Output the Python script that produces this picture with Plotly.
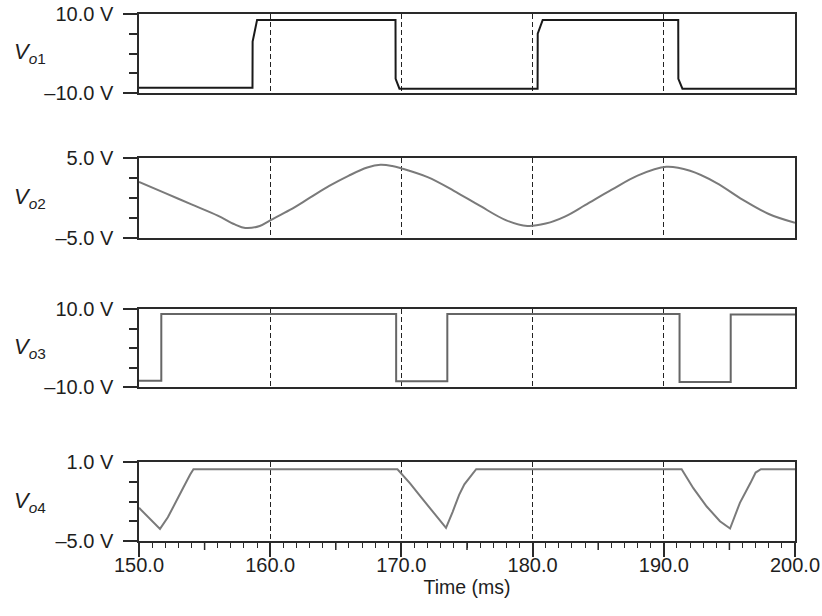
import plotly.graph_objects as go

# ---------------- data ----------------
t_vo1 = [150, 158.65, 158.66, 159.0, 169.55, 169.56, 169.85, 180.38, 180.39, 180.77, 191.1, 191.11, 191.42, 200]
v_vo1 = [-8.7, -8.7, 3.0, 8.5, 8.5, -6.4, -8.9, -8.9, 5.0, 8.5, 8.5, -6.4, -8.9, -8.9]

t_vo2 = [150, 152, 154, 156, 157.3, 158.1, 159.2, 160, 161.5, 163, 164.5, 166, 167.4, 168.4, 169.3,
         170, 172, 174, 176, 178, 179.6, 181, 182.5, 184, 186, 188, 190.2, 192, 194, 196, 198, 200]
v_vo2 = [2.0, 0.6, -0.8, -2.2, -3.3, -3.75, -3.5, -2.8, -1.5, 0.0, 1.5, 2.8, 3.8, 4.15, 4.0,
         3.7, 2.6, 0.9, -1.0, -2.8, -3.5, -3.2, -2.3, -0.9, 1.0, 2.8, 3.9, 3.4, 1.9, -0.2, -2.0, -3.1]

t_vo3 = [150, 151.7, 151.7, 169.6, 169.6, 173.5, 173.5, 191.2, 191.2, 195.1, 195.1, 200]
v_vo3 = [-8.4, -8.4, 8.7, 8.7, -8.5, -8.5, 8.7, 8.7, -8.7, -8.7, 8.6, 8.6]

t_vo4 = [150, 150.8, 151.6, 152.2, 152.8, 153.4, 153.9, 154.15, 169.7, 170.66, 171.42, 172.18, 172.94, 173.4,
         173.9, 174.4, 174.8, 175.2, 175.7, 191.36, 192.25, 193.27, 194.28, 195.05,
         195.8, 196.6, 197.0, 197.4, 200]
v_vo4 = [-2.48, -3.28, -4.08, -3.2, -2.1, -0.9, 0.05, 0.45, 0.45, -0.62, -1.58, -2.51, -3.52, -4.0,
         -2.8, -1.5, -0.7, -0.2, 0.45, 0.45, -0.99, -2.38, -3.5, -4.05,
         -2.1, -0.6, 0.2, 0.45, 0.45]

panel_labels = ["<i>V</i><sub><i>o</i>1</sub>", "<i>V</i><sub><i>o</i>2</sub>",
                "<i>V</i><sub><i>o</i>3</sub>", "<i>V</i><sub><i>o</i>4</sub>"]
y_ranges = [(-10, 10), (-5, 5), (-10, 10), (-5, 1)]
y_ticktext = [["–10.0 V", "10.0 V"], ["–5.0 V", "5.0 V"], ["–10.0 V", "10.0 V"], ["–5.0 V", "1.0 V"]]
y_minor = [[-5, 0, 5], [-2.5, 0, 2.5], [-5, 0, 5], [-3.5, -2, -0.5]]
x_ticks = [150, 160, 170, 180, 190, 200]
x_mid_ticks = [155, 165, 175, 185, 195]

# ---------------- figure ----------------
FONT = "Liberation Sans, Arial, Helvetica, sans-serif"
AX = "#2a2a2a"
TXT = "#1e1e1e"
domains = [(0.8501, 1.0), (0.5750, 0.7268), (0.2922, 0.4402), (0.0, 0.1499)]

series = [(t_vo1, v_vo1, "#1a1a1a", "linear"),
          (t_vo2, v_vo2, "#7a7a7a", "spline"),
          (t_vo3, v_vo3, "#666666", "linear"),
          (t_vo4, v_vo4, "#7a7a7a", "linear")]

fig = go.Figure()
for i, (t, v, c, shape) in enumerate(series):
    sfx = "" if i == 0 else str(i + 1)
    fig.add_trace(go.Scatter(x=t, y=v, mode="lines", xaxis="x" + sfx, yaxis="y" + sfx,
                             line=dict(color=c, width=2, shape=shape), showlegend=False,
                             hoverinfo="skip"))

layout = dict(width=822, height=616, paper_bgcolor="white", plot_bgcolor="white",
              margin=dict(l=139, r=27, t=14, b=75),
              font=dict(family=FONT, size=20, color=TXT), showlegend=False)

for i in range(4):
    sfx = "" if i == 0 else str(i + 1)
    last = (i == 3)
    xa = dict(domain=[0, 1], anchor="y" + sfx, range=[150, 200], showline=True, mirror=True,
              linecolor=AX, linewidth=1.5, showgrid=True, gridcolor="#222222", gridwidth=1,
              griddash="5px,3px", tickmode="array", tickvals=x_ticks, zeroline=False,
              fixedrange=True, automargin=False)
    if last:
        xa.update(ticks="outside", ticklen=14, tickwidth=1.5, tickcolor=AX,
                  ticktext=[f"{x:.1f}" for x in x_ticks], showticklabels=True,
                  tickfont=dict(size=20, family=FONT, color=TXT), ticklabelstandoff=-9,
                  minor=dict(tickmode="linear", tick0=150, dtick=1, ticks="outside", ticklen=5,
                             tickwidth=1, tickcolor=AX, showgrid=False),
                  title=dict(text="Time (ms)", font=dict(size=19.5, family=FONT, color=TXT),
                             standoff=3))
    else:
        xa.update(ticks="", showticklabels=False)
    lo, hi = y_ranges[i]
    ya = dict(domain=list(domains[i]), anchor="x" + sfx, range=[lo, hi], showline=True, mirror=True,
              linecolor=AX, linewidth=1.5, showgrid=False, zeroline=False,
              tickmode="array", tickvals=[lo, hi], ticktext=y_ticktext[i],
              ticks="outside", ticklen=14, tickwidth=1.5, tickcolor=AX,
              tickfont=dict(size=20, family=FONT, color=TXT), ticklabelstandoff=6,
              minor=dict(tickmode="array", tickvals=y_minor[i], ticks="outside", ticklen=8,
                         tickwidth=1.5, tickcolor=AX, showgrid=False),
              fixedrange=True, automargin=False)
    layout["xaxis" + sfx] = xa
    layout["yaxis" + sfx] = ya

fig.update_layout(**layout)

# medium-length ticks at the 5 ms marks of the time axis
for xm in x_mid_ticks:
    fig.add_shape(type="line", xref="x4", yref="paper", x0=xm, x1=xm, y0=0, y1=-9 / 527,
                  line=dict(color=AX, width=1.5))

for i, lab in enumerate(panel_labels):
    yref = "y domain" if i == 0 else f"y{i + 1} domain"
    fig.add_annotation(text=lab, xref="paper", yref=yref, x=(30 - 139) / 656, y=0.5,
                       xanchor="center", yanchor="middle", showarrow=False,
                       font=dict(size=22, family=FONT, color=TXT))

# remove the browser's default 8px page margin so the figure sits at the window origin
fig.write_html("out.html", config={"displayModeBar": False},
               post_script="document.body.style.margin='0px';")
